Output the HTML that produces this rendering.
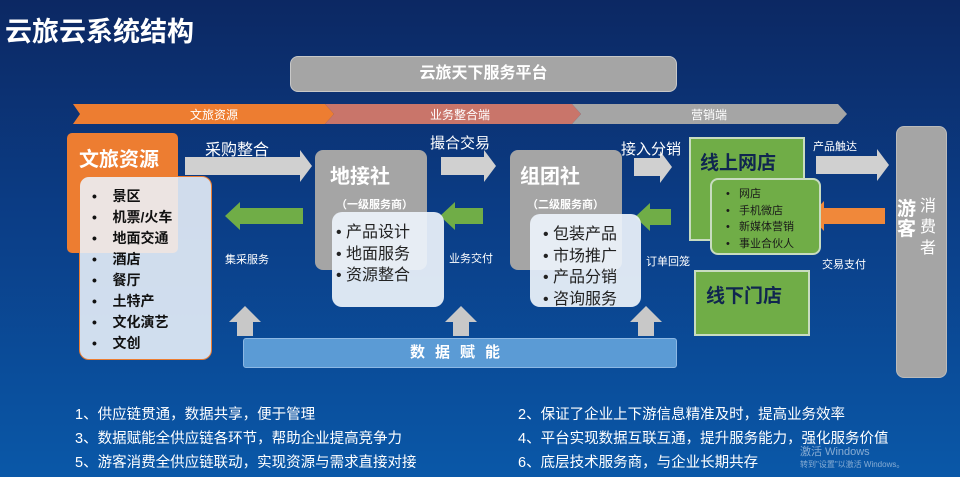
<!DOCTYPE html>
<html><head><meta charset="utf-8"><style>
*{margin:0;padding:0;box-sizing:border-box}
body{width:960px;height:477px;overflow:hidden;position:relative;font-family:"Liberation Sans","Noto Sans CJK SC",sans-serif;background:linear-gradient(180deg,#0c2863 0%,#0b3d86 45%,#0a58a8 100%);color:#fff}
.a{position:absolute}
.t{white-space:nowrap}
.gray{background:#a5a5a5;border-radius:8px}
.wb{background:rgba(236,242,250,0.93);border-radius:10px}
.li{color:#111;font-weight:bold;font-size:14px;line-height:21px}
.li2{color:#222;font-size:16px;line-height:21.5px}
.grn{background:#70ad47;border:2px solid #c8dcc0}
</style></head><body>
<div class="a t" style="left:5px;top:10px;font-size:27px;font-weight:bold">云旅云系统结构</div>
<div class="a gray" style="left:290px;top:56px;width:387px;height:36px;border:1px solid #c8c8c8;text-align:center;line-height:34px;font-weight:bold;font-size:16px">云旅天下服务平台</div>
<svg class="a" style="left:0;top:0" width="960" height="477">
<polygon points="73,104 325,104 334,114 325,124 73,124 80,114" fill="#ed7d31"/>
<polygon points="325,104 572,104 581,114 572,124 325,124 334,114" fill="#c9756a"/>
<polygon points="572,104 838,104 847,114 838,124 572,124 581,114" fill="#a5a5a5"/>
<polygon points="185,157 300,157 300,150 312,166 300,182 300,175 185,175" fill="#d0d0d0"/>
<polygon points="441,157 484,157 484,150 496,166 484,182 484,175 441,175" fill="#d0d0d0"/>
<polygon points="634,158 660,158 660,151 672,167 660,183 660,176 634,176" fill="#d0d0d0"/>
<polygon points="816,156 877,156 877,149 889,165 877,181 877,174 816,174" fill="#d0d0d0"/>
<polygon points="303,208 240,208 240,202 225,216 240,230 240,224 303,224" fill="#70ad47"/>
<polygon points="483,208 455,208 455,202 440,216 455,230 455,224 483,224" fill="#70ad47"/>
<polygon points="671,209 650,209 650,203 635,217 650,231 650,225 671,225" fill="#70ad47"/>
<polygon points="885,208 824,208 824,201 810,216 824,231 824,224 885,224" fill="#f0883a"/>
<polygon points="237,336 237,322 229,322 245,306 261,322 253,322 253,336" fill="#c8c8c8"/>
<polygon points="453,336 453,322 445,322 461,306 477,322 469,322 469,336" fill="#c8c8c8"/>
<polygon points="638,336 638,322 630,322 646,306 662,322 654,322 654,336" fill="#c8c8c8"/>
</svg>
<div class="a t" style="left:190px;top:106px;font-size:12px">文旅资源</div>
<div class="a t" style="left:430px;top:106px;font-size:12px">业务整合端</div>
<div class="a t" style="left:691px;top:106px;font-size:12px">营销端</div>
<div class="a" style="left:67px;top:133px;width:111px;height:120px;background:#ed7d31;border-radius:5px"></div>
<div class="a t" style="left:79px;top:143px;font-size:20px;font-weight:bold">文旅资源</div>
<div class="a wb" style="left:79px;top:176px;width:133px;height:184px;border:1px solid #ed7d31;background:rgba(236,242,250,0.88)"></div>
<div class="a li" style="left:92px;top:186px">•&nbsp;&nbsp;&nbsp;&nbsp;景区<br>•&nbsp;&nbsp;&nbsp;&nbsp;机票/火车<br>•&nbsp;&nbsp;&nbsp;&nbsp;地面交通<br>•&nbsp;&nbsp;&nbsp;&nbsp;酒店<br>•&nbsp;&nbsp;&nbsp;&nbsp;餐厅<br>•&nbsp;&nbsp;&nbsp;&nbsp;土特产<br>•&nbsp;&nbsp;&nbsp;&nbsp;文化演艺<br>•&nbsp;&nbsp;&nbsp;&nbsp;文创</div>
<div class="a t" style="left:205px;top:136px;font-size:16px">采购整合</div>
<div class="a t" style="left:225px;top:251px;font-size:11px">集采服务</div>
<div class="a gray" style="left:315px;top:150px;width:112px;height:120px"></div>
<div class="a t" style="left:330px;top:160px;font-size:20px;font-weight:bold">地接社</div>
<div class="a t" style="left:336px;top:196px;font-size:11px;font-weight:bold">（一级服务商）</div>
<div class="a wb" style="left:332px;top:212px;width:112px;height:95px"></div>
<div class="a li2" style="left:336px;top:222px">• 产品设计<br>• 地面服务<br>• 资源整合</div>
<div class="a t" style="left:430px;top:132px;font-size:15px">撮合交易</div>
<div class="a t" style="left:449px;top:250px;font-size:11px">业务交付</div>
<div class="a gray" style="left:510px;top:150px;width:112px;height:120px"></div>
<div class="a t" style="left:520px;top:160px;font-size:20px;font-weight:bold">组团社</div>
<div class="a t" style="left:527px;top:196px;font-size:11px;font-weight:bold">（二级服务商）</div>
<div class="a wb" style="left:530px;top:214px;width:111px;height:93px"></div>
<div class="a li2" style="left:543px;top:224px">• 包装产品<br>• 市场推广<br>• 产品分销<br>• 咨询服务</div>
<div class="a t" style="left:621px;top:138px;font-size:15px">接入分销</div>
<div class="a t" style="left:646px;top:253px;font-size:11px">订单回笼</div>
<div class="a grn" style="left:689px;top:137px;width:116px;height:104px"></div>
<div class="a t" style="left:700px;top:148px;font-size:19px;font-weight:bold;color:#10264f">线上网店</div>
<div class="a grn" style="left:710px;top:178px;width:111px;height:77px;border-radius:8px"></div>
<div class="a" style="left:726px;top:186px;font-size:11px;line-height:16.5px;color:#1a1a1a">•&nbsp;&nbsp;&nbsp;网店<br>•&nbsp;&nbsp;&nbsp;手机微店<br>•&nbsp;&nbsp;&nbsp;新媒体营销<br>•&nbsp;&nbsp;&nbsp;事业合伙人</div>
<div class="a grn" style="left:694px;top:270px;width:116px;height:66px"></div>
<div class="a t" style="left:706px;top:281px;font-size:19px;font-weight:bold;color:#10264f">线下门店</div>
<div class="a t" style="left:813px;top:138px;font-size:11px">产品触达</div>
<div class="a t" style="left:822px;top:256px;font-size:11px">交易支付</div>
<div class="a gray" style="left:896px;top:126px;width:51px;height:252px;border:1px solid #bbb"></div>
<div class="a" style="left:897px;top:200px;font-size:19px;font-weight:bold;line-height:20px;width:20px">游客</div>
<div class="a" style="left:920px;top:196px;font-size:16px;line-height:21px;width:18px">消费者</div>
<div class="a" style="left:243px;top:338px;width:434px;height:30px;background:#5b9bd5;border:1px solid #8db8e4;border-radius:3px;text-align:center;line-height:28px;font-size:15px;font-weight:bold;letter-spacing:10px">数据赋能</div>
<div class="a t" style="left:75px;top:403px;font-size:14.5px;line-height:24px">1、供应链贯通，数据共享，便于管理<br>3、数据赋能全供应链各环节，帮助企业提高竞争力<br>5、游客消费全供应链联动，实现资源与需求直接对接</div>
<div class="a t" style="left:518px;top:403px;font-size:14.5px;line-height:24px">2、保证了企业上下游信息精准及时，提高业务效率<br>4、平台实现数据互联互通，提升服务能力，强化服务价值<br>6、底层技术服务商，与企业长期共存</div>
<div class="a t" style="left:800px;top:446px;font-size:11px;color:rgba(255,255,255,0.5);line-height:12px">激活 Windows<br><span style="font-size:8px">转到"设置"以激活 Windows。</span></div>
</body></html>
